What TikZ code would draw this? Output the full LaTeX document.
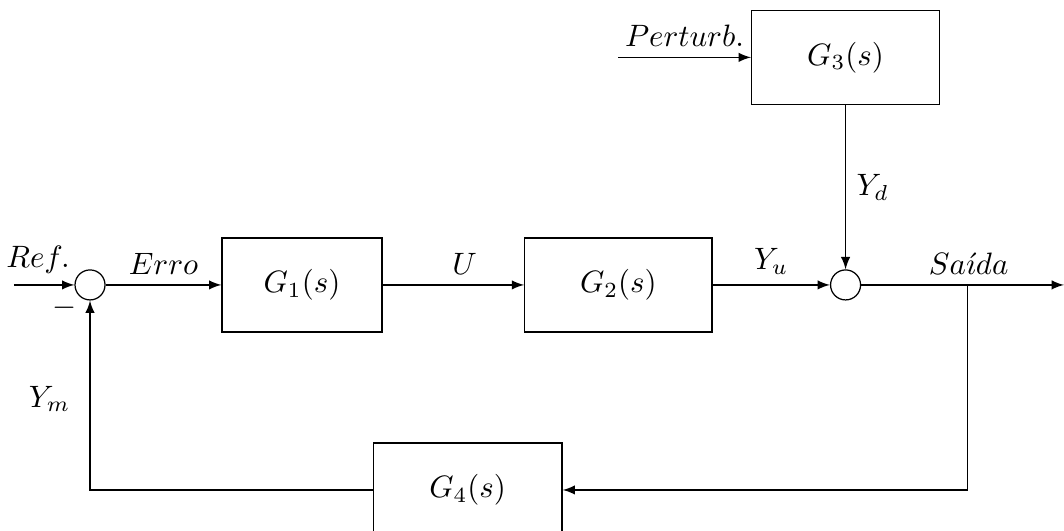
\documentclass[tikz,border=0pt]{standalone}
\usetikzlibrary{arrows}

\tikzset{
    block/.style={draw, rectangle, minimum height=1.068cm},
    sumnode/.style={draw, circle, minimum size=0.341cm, inner sep=0pt}
}

\begin{document}
\begin{tikzpicture}
    \useasboundingbox (0,0) rectangle (12.091,6.034);
    % blocos
    \node[sumnode] (sum1) at (1.023,2.796) {};
    \node[block, minimum width=1.818cm] (g1) at (3.432,2.796) {$G_1(s)$};
    \node[block, minimum width=2.127cm] (g2) at (7.027,2.796) {$G_2(s)$};
    \node[sumnode] (sum2) at (9.609,2.796) {};
    \node[block, minimum width=2.136cm] (g3) at (9.609,5.382) {$G_3(s)$};
    \node[block, minimum width=2.145cm] (g4) at (5.314,0.466) {$G_4(s)$};
    \node (minus) at ([xshift=-0.29cm,yshift=-0.26cm]sum1) {$-$};
    \coordinate (ref) at (0.159,2.796);
    \coordinate (pert) at (7.023,5.382);
    \coordinate (out) at (12.091,2.796);
    \coordinate (branch) at (10.991,2.796);
    % ligacoes
    \draw[-latex] (ref) -- node[pos=0.4, above] {$Ref.$} (sum1);
    \draw[-latex] (sum1) -- node[above] {$Erro$} (g1);
    \draw[-latex] (g1) -- node[pos=0.58, above] {$U$} (g2);
    \draw[-latex] (g2) -- node[above] {$Y_u$} (sum2);
    \draw[-latex] (pert) -- node[above] {$Perturb.$} (g3);
    \draw[-latex] (g3) -- node[right] {$Y_d$} (sum2);
    \draw[-latex] (sum2) -- node[pos=0.53, above] {$Sa\acute{\imath}da$} (out);
    \draw[-latex] (branch) |- (g4);
    \draw[-latex] (g4) -| node[pos=0.74, left=0.1cm] {$Y_m$} (sum1);
\end{tikzpicture}
\end{document}
